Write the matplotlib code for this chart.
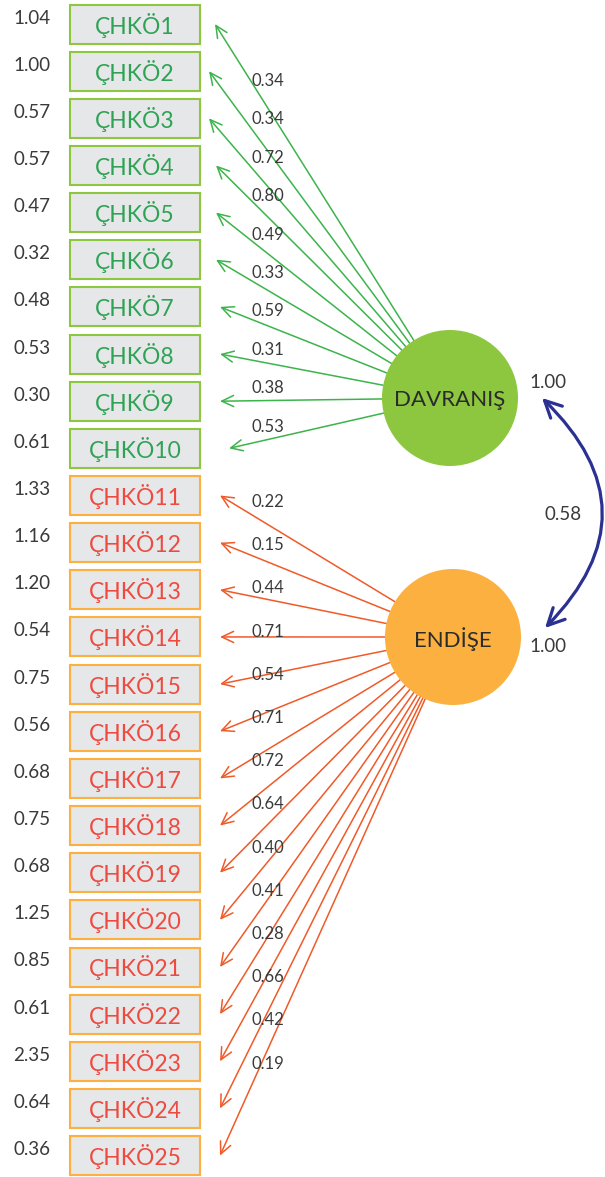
import numpy as np
import matplotlib
matplotlib.use("Agg")
import matplotlib.pyplot as plt
from matplotlib.patches import Rectangle, Circle, FancyArrowPatch

plt.rcParams['font.family'] = ['Lato', 'DejaVu Sans']

# item labels, error variances and loadings
items = ["ÇHKÖ%d" % i for i in range(1, 26)]
errors = ["1.04", "1.00", "0.57", "0.57", "0.47", "0.32", "0.48", "0.53", "0.30", "0.61",
          "1.33", "1.16", "1.20", "0.54", "0.75", "0.56", "0.68", "0.75", "0.68", "1.25",
          "0.85", "0.61", "2.35", "0.64", "0.36"]
load_davranis = ["0.34", "0.34", "0.72", "0.80", "0.49", "0.33", "0.59", "0.31", "0.38", "0.53"]
load_endise = ["0.22", "0.15", "0.44", "0.71", "0.54", "0.71", "0.72", "0.64", "0.40",
               "0.41", "0.28", "0.66", "0.42", "0.19"]
factors = ["DAVRANIŞ", "ENDİŞE"]
factor_var = ["1.00", "1.00"]
corr = "0.58"

# arrow tip x for each item (slightly jittered in the original)
tip_x = [215, 209, 209, 216, 216, 216, 220, 220, 220, 229] + [220] * 15

W, H = 605, 1177
fig = plt.figure(figsize=(W / 100, H / 100), dpi=100)
ax = fig.add_axes([0, 0, 1, 1])
ax.set_xlim(0, W)
ax.set_ylim(H, 0)
ax.axis('off')

green_edge = '#8dc63f'
green_txt = '#2ea355'
green_line = '#3cb44b'
orange_edge = '#fbb040'
red_txt = '#ef4a40'
orange_line = '#f05a28'
txt = '#3a3a3a'

y0, pitch = 24, 47.15
box_l, box_r, box_h = 70, 200, 39
cy = [y0 + i * pitch for i in range(len(items))]

centers = [(450, 398), (453, 637)]
rad = 68

for i, name in enumerate(items):
    grp = 0 if i < 10 else 1
    ax.add_patch(Rectangle((box_l, cy[i] - box_h / 2), box_r - box_l, box_h,
                           facecolor='#e6e7e8',
                           edgecolor=green_edge if grp == 0 else orange_edge,
                           linewidth=1.5, zorder=2))
    ax.text((box_l + box_r) / 2, cy[i] + 1, name, ha='center', va='center',
            fontsize=16.5, color=green_txt if grp == 0 else red_txt, zorder=3)
    ax.text(32, cy[i] - 6, errors[i], ha='center', va='center', fontsize=13.5, color=txt)

    # arrow from factor edge to item
    cx0, cy0 = centers[grp]
    tx, ty = tip_x[i], cy[i]
    d = np.array([tx - cx0, ty - cy0], dtype=float)
    d /= np.hypot(*d)
    sx, sy = cx0 + d[0] * rad, cy0 + d[1] * rad
    ax.add_patch(FancyArrowPatch((sx, sy), (tx, ty),
                                 arrowstyle='->,head_length=0.85,head_width=0.4',
                                 mutation_scale=10, shrinkA=0, shrinkB=0,
                                 color=green_line if grp == 0 else orange_line,
                                 linewidth=1.1, zorder=1))

# loading labels
for k, v in enumerate(load_davranis):
    ax.text(252, 81 + k * 38.4, v, ha='left', va='center', fontsize=12, color=txt, zorder=4)
for k, v in enumerate(load_endise):
    ax.text(252, 502 + k * 43.2, v, ha='left', va='center', fontsize=12, color=txt, zorder=4)

# factors
for (cx0, cy0), name, col in zip(centers, factors, [green_edge, '#fbb040']):
    ax.add_patch(Circle((cx0, cy0), rad, facecolor=col, edgecolor='none', zorder=3))
    ax.text(cx0, cy0 + 2, name, ha='center', va='center', fontsize=16, color='#2b2b2b', zorder=4)

# correlation
ax.add_patch(FancyArrowPatch((542, 398), (545, 628),
                             connectionstyle='arc3,rad=-0.5',
                             arrowstyle='<->,head_length=1.2,head_width=0.6',
                             mutation_scale=10, shrinkA=0, shrinkB=0,
                             color='#2b3192', linewidth=2.3, zorder=2))
ax.text(548, 383, factor_var[0], ha='center', va='center', fontsize=13.5, color=txt)
ax.text(563, 515, corr, ha='center', va='center', fontsize=13.5, color=txt)
ax.text(548, 647, factor_var[1], ha='center', va='center', fontsize=13.5, color=txt)

fig.savefig('out.png', dpi=100, facecolor='white')
